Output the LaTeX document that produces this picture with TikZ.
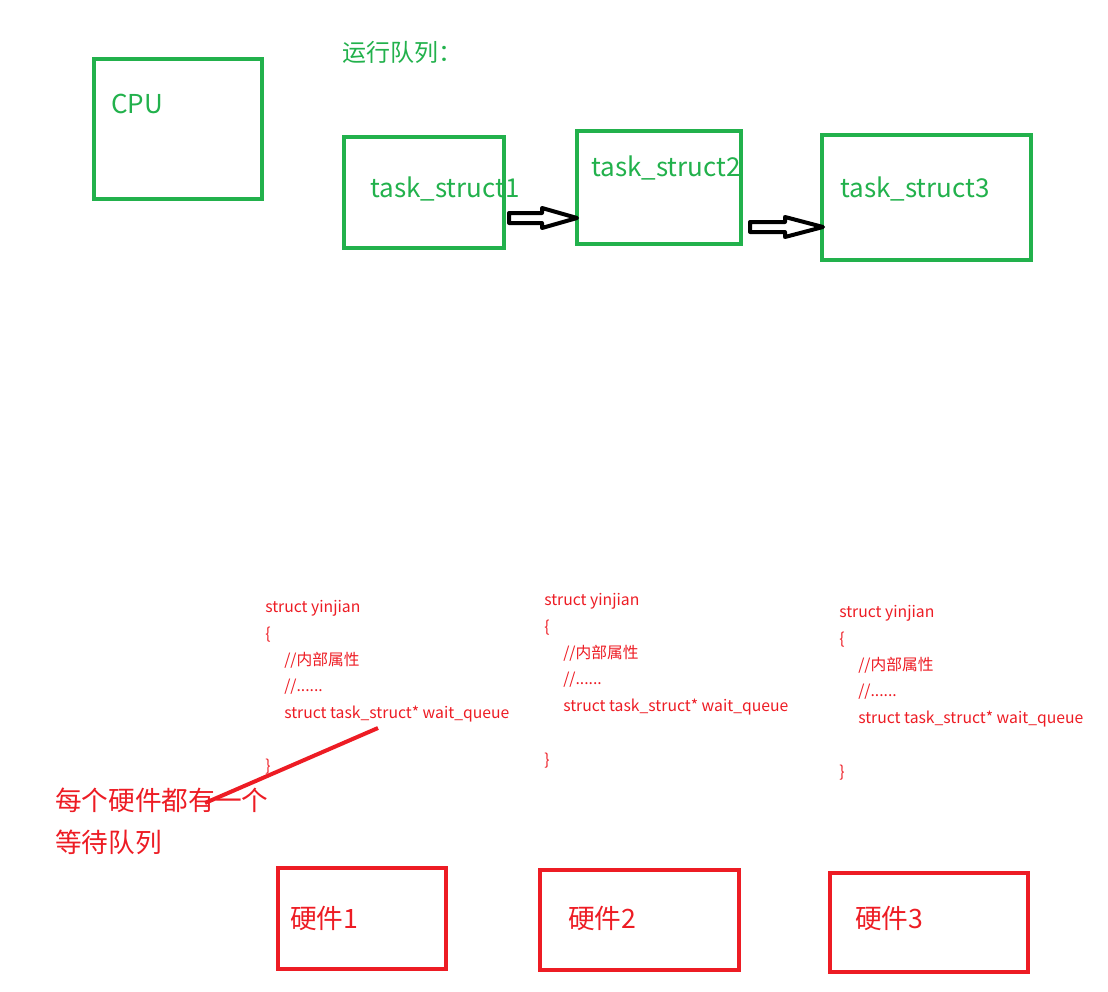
\documentclass[tikz,border=0pt]{standalone}
\usepackage{fontspec}
\setmainfont{Noto Sans CJK SC}
\definecolor{pgreen}{HTML}{22B14C}
\definecolor{pred}{HTML}{ED1C24}
\tikzset{
  gbox/.style={draw=pgreen, line width=3pt},
  rbox/.style={draw=pred, line width=3pt},
  gtext/.style={anchor=base west, inner sep=0pt, text=pgreen, font=\fontsize{19.5}{23}\selectfont},
  ttext/.style={anchor=base west, inner sep=0pt, text=pgreen, font=\fontsize{18}{22}\selectfont},
  rtext/.style={anchor=base west, inner sep=0pt, text=pred, font=\fontsize{20}{24}\selectfont},
  code/.style={anchor=base west, inner sep=0pt, text=pred, font=\fontsize{11.8}{14}\selectfont},
  blockarrow/.style={draw=black, line width=3pt, line join=round, fill=white},
}
\begin{document}
\begin{tikzpicture}[x=0.75pt,y=-0.75pt]
\useasboundingbox (0,0) rectangle (1108,992);
% green boxes
\draw[gbox] (94,59) rectangle (262,199);
\node[gtext] (cpu) at (111,113) {CPU};
\node[ttext] (title) at (342,61) {运行队列：};
\draw[gbox] (344,137) rectangle (504,248);
\node[gtext] (t1) at (370,197) {task\_struct1};
\draw[gbox] (577,131) rectangle (741,244);
\node[gtext] (t2) at (591,176) {task\_struct2};
\draw[gbox] (822,135) rectangle (1031,260);
\node[gtext] (t3) at (840,197) {task\_struct3};
% hollow arrows
\draw[blockarrow] (509,213) -- (542,213) -- (542,208) -- (577,218) -- (542,228) -- (542,223) -- (509,223) -- cycle;
\draw[blockarrow] (750,222) -- (785,222) -- (785,217) -- (823,227) -- (785,237) -- (785,232) -- (750,232) -- cycle;
% code block 1
\node[code] (a1) at (265,612) {struct yinjian};
\node[code] (a2) at (265,639) {\{};
\node[code] (a3) at (284,665) {//内部属性};
\node[code] (a4) at (284,691) {//......};
\node[code] (a5) at (284,718) {struct task\_struct* wait\_queue};
\node[code] (a6) at (265,771) {\}};
% code block 2
\node[code] (b1) at (544,605) {struct yinjian};
\node[code] (b2) at (544,632) {\{};
\node[code] (b3) at (563,658) {//内部属性};
\node[code] (b4) at (563,684) {//......};
\node[code] (b5) at (563,711) {struct task\_struct* wait\_queue};
\node[code] (b6) at (544,765) {\}};
% code block 3
\node[code] (c1) at (839,617) {struct yinjian};
\node[code] (c2) at (839,644) {\{};
\node[code] (c3) at (858,670) {//内部属性};
\node[code] (c4) at (858,696) {//......};
\node[code] (c5) at (858,723) {struct task\_struct* wait\_queue};
\node[code] (c6) at (839,777) {\}};
% annotation
\node[rtext] (n1) at (55,810) {每个硬件都有一个};
\node[rtext] (n2) at (55,852) {等待队列};
\coordinate (p1) at (378,728);
\coordinate (p2) at (205,803);
\draw[pred, line width=3pt] (p1) -- (p2);
% red boxes
\draw[rbox] (278,868) rectangle (446,969);
\node[rtext] (h1) at (290,928) {硬件1};
\draw[rbox] (540,870) rectangle (739,970);
\node[rtext] (h2) at (568,928) {硬件2};
\draw[rbox] (830,873) rectangle (1028,972);
\node[rtext] (h3) at (855,928) {硬件3};
\end{tikzpicture}
\end{document}
